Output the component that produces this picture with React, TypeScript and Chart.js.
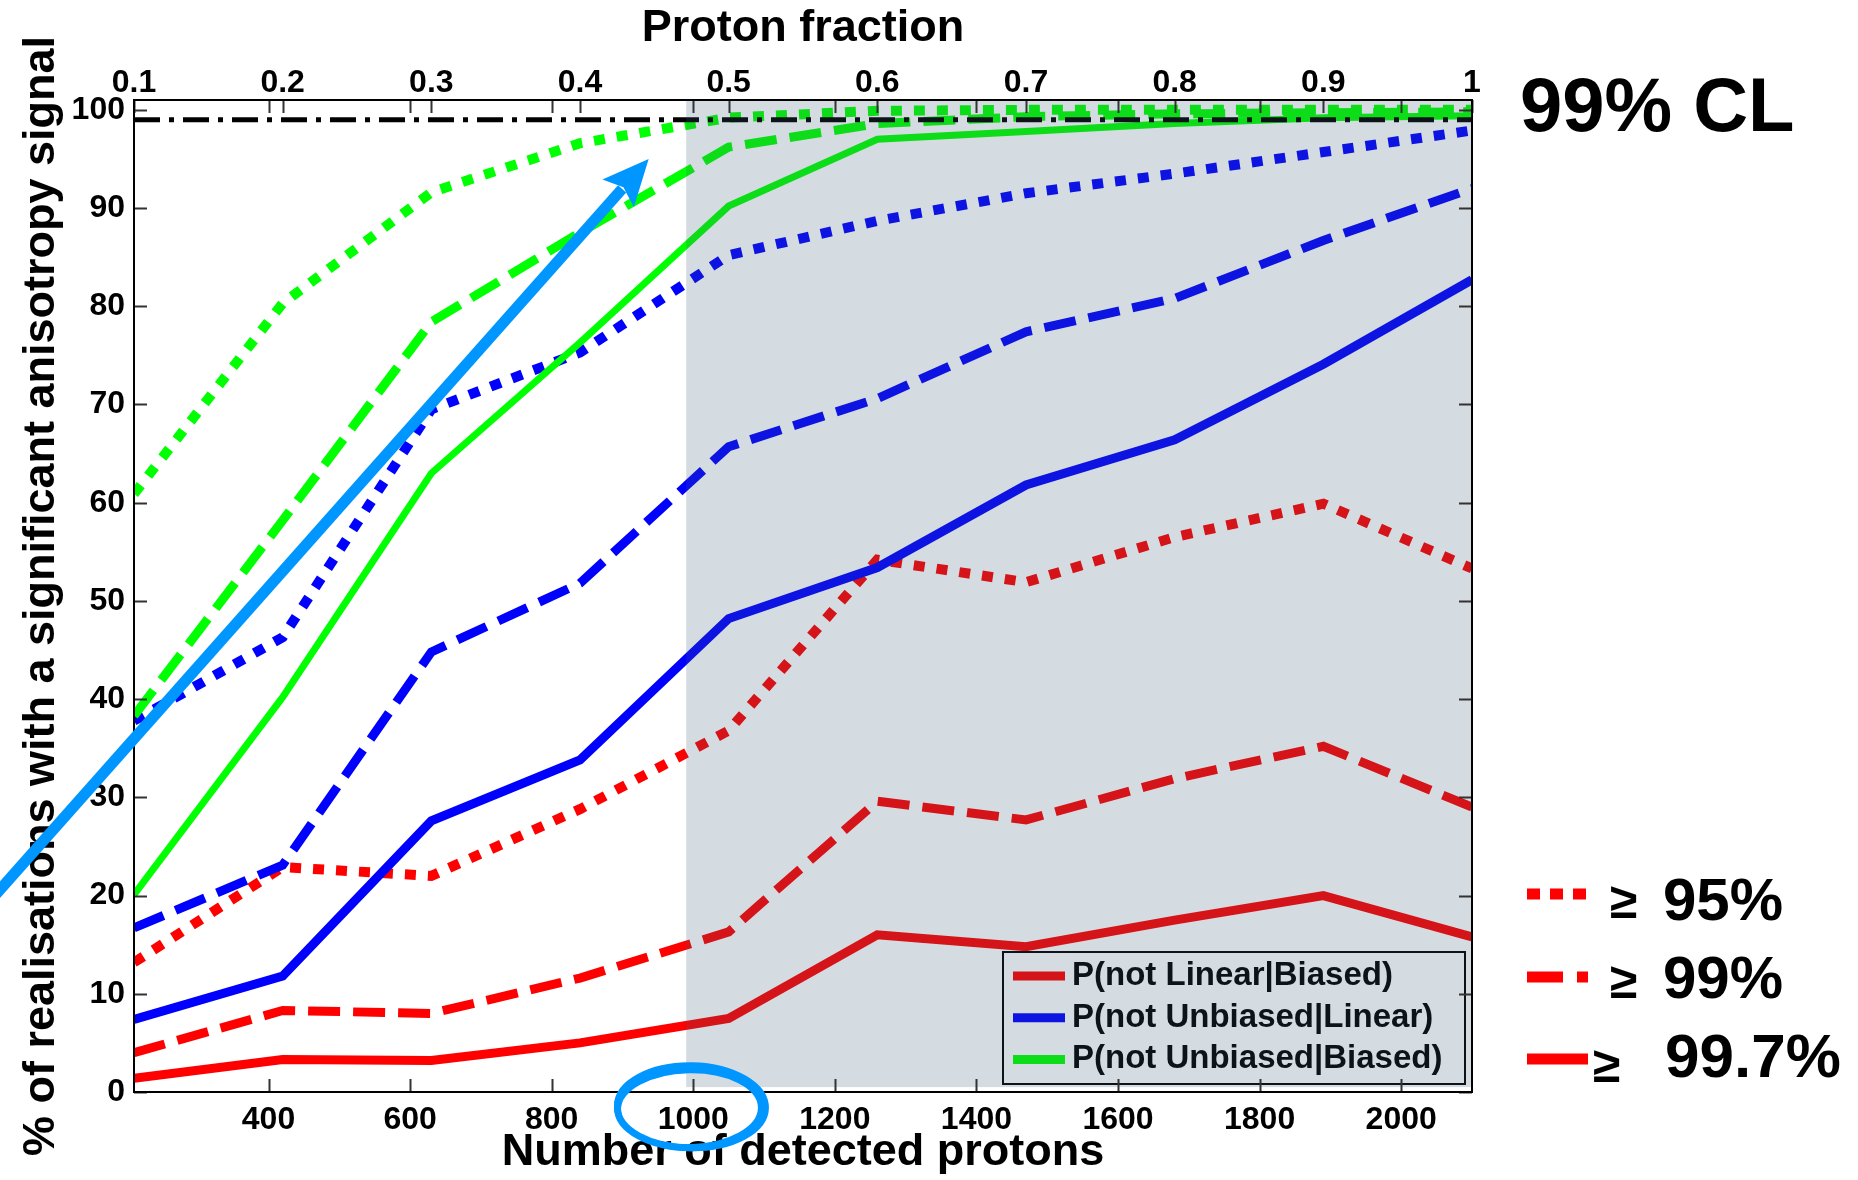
import React, { useEffect, useRef } from "react";
import { Chart, registerables } from "chart.js";

Chart.register(...registerables);

// Number of detected protons (bottom axis); proton fraction = N / 2100 (top axis)
const PROTONS = [210, 420, 630, 840, 1050, 1260, 1470, 1680, 1890, 2100];
const PROTON_TICKS = [400, 600, 800, 1000, 1200, 1400, 1600, 1800, 2000];
const FRACTION_TICKS = [0.1, 0.2, 0.3, 0.4, 0.5, 0.6, 0.7, 0.8, 0.9, 1];
const PERCENT_TICKS = [0, 10, 20, 30, 40, 50, 60, 70, 80, 90, 100];

// % of realisations with a significant anisotropy signal
// P(not Linear|Biased)
const LIN_BIASED_997 = [1.4, 3.3, 3.2, 5.0, 7.5, 16.0, 14.8, 17.5, 20.0, 15.8];
const LIN_BIASED_99 = [4.0, 8.3, 8.0, 11.6, 16.3, 29.6, 27.7, 31.9, 35.2, 29.0];
const LIN_BIASED_95 = [13.2, 22.9, 22.0, 28.8, 36.8, 54.2, 51.9, 56.5, 59.9, 53.3];
// P(not Unbiased|Linear)
const UNB_LINEAR_997 = [7.4, 11.8, 27.6, 33.8, 48.2, 53.4, 61.8, 66.4, 74.1, 82.7];
const UNB_LINEAR_99 = [16.7, 23.1, 44.8, 51.8, 65.7, 70.6, 77.4, 80.8, 86.7, 92.0];
const UNB_LINEAR_95 = [37.8, 46.3, 69.5, 75.3, 85.2, 88.7, 91.5, 93.5, 95.7, 97.9];
// P(not Unbiased|Biased)
const UNB_BIASED_997 = [20.1, 40.2, 63.0, 76.3, 90.2, 97.0, 97.8, 98.6, 99.2, 99.4];
const UNB_BIASED_99 = [38.3, 58.2, 78.4, 87.5, 96.2, 98.6, 99.3, 99.6, 99.7, 99.8];
const UNB_BIASED_95 = [60.9, 80.3, 91.6, 96.6, 99.2, 99.9, 100, 100, 100, 100];

const CL_LEVEL = 99;
const LEGEND_LABELS = [
  "P(not Linear|Biased)",
  "P(not Unbiased|Linear)",
  "P(not Unbiased|Biased)",
];
const CL_LABELS = ["95%", "99%", "99.7%"];

// shaded proton range and annotation anchors, in data units
const SHADE_X = [990, 2100];
const SHADE_Y = [0.5, 101];
const ARROW_FROM = [-20, 17.3];
const ARROW_TO = [937, 95.0];
const RING_CENTER = [996, -1.6];

const FONT = '"Liberation Sans", Arial, Helvetica, sans-serif';
const RED = "#ff0000";
const BLUE = "#0000ff";
const GREEN = "#00ff00";
const MARK_BLUE = "rgb(0,150,255)";
const DOTTED = [11, 12];
const DASHED = [32, 13];
const DASH_DOT = [26, 9, 5, 9];

const pts = (vals: number[]) => PROTONS.map((n, i) => ({ x: n, y: vals[i] }));

function line(label: string, vals: number[], color: string, dash: number[], width: number, legend = false) {
  return {
    label,
    data: pts(vals),
    borderColor: color,
    backgroundColor: color,
    borderWidth: width,
    borderDash: dash,
    pointRadius: 0,
    fill: false,
    tension: 0,
    borderJoinStyle: "miter" as const,
    borderCapStyle: "butt" as const,
    showInLegend: legend,
  };
}

const decorations = {
  id: "decorations",
  afterDatasetsDraw(chart: any) {
    const { ctx, chartArea: a, scales } = chart;
    const xs = scales.x;
    const ys = scales.y;
    const xt = scales.xTop;
    ctx.save();

    // legend box (sits inside the shaded range)
    const lx0 = a.right - 469;
    const ly0 = a.bottom - 140;
    const lw = 462;
    const lh = 132;
    ctx.fillStyle = "#ffffff";
    ctx.fillRect(lx0, ly0, lw, lh);
    ctx.strokeStyle = "#000";
    ctx.lineWidth = 2;
    ctx.strokeRect(lx0, ly0, lw, lh);
    const legendSets = chart.data.datasets.filter((d: any) => d.showInLegend);
    legendSets.forEach((d: any, i: number) => {
      const cy = ly0 + 24 + i * 41.7;
      ctx.strokeStyle = d.borderColor;
      ctx.lineWidth = 9;
      ctx.setLineDash([]);
      ctx.beginPath();
      ctx.moveTo(lx0 + 10, cy);
      ctx.lineTo(lx0 + 62, cy);
      ctx.stroke();
      ctx.fillStyle = "#000";
      ctx.font = `bold 33px ${FONT}`;
      ctx.textBaseline = "middle";
      ctx.textAlign = "left";
      ctx.fillText(d.label, lx0 + 69, cy);
    });

    // translucent shading laid over the curves
    const sx0 = xs.getPixelForValue(SHADE_X[0]);
    const sx1 = xs.getPixelForValue(SHADE_X[1]);
    const sy0 = ys.getPixelForValue(SHADE_Y[1]);
    const sy1 = ys.getPixelForValue(SHADE_Y[0]);
    ctx.fillStyle = "rgba(60,92,116,0.216)";
    ctx.fillRect(sx0, Math.max(sy0, a.top), sx1 - sx0, sy1 - Math.max(sy0, a.top));

    // inward tick marks on all four sides
    const tl = 13;
    ctx.strokeStyle = "#333";
    ctx.lineWidth = 2;
    ctx.beginPath();
    PROTON_TICKS.forEach((v) => {
      const px = Math.round(xs.getPixelForValue(v)) + 0.5;
      ctx.moveTo(px, a.bottom);
      ctx.lineTo(px, a.bottom - tl);
      ctx.moveTo(px, a.top);
      ctx.lineTo(px, a.top + tl);
    });
    FRACTION_TICKS.forEach((v) => {
      const px = Math.round(xt.getPixelForValue(v)) + 0.5;
      ctx.moveTo(px, a.top);
      ctx.lineTo(px, a.top + tl);
    });
    PERCENT_TICKS.forEach((v) => {
      const py = Math.round(ys.getPixelForValue(v)) + 0.5;
      ctx.moveTo(a.left, py);
      ctx.lineTo(a.left + tl, py);
      ctx.moveTo(a.right, py);
      ctx.lineTo(a.right - tl, py);
    });
    ctx.stroke();

    // axes box
    ctx.strokeStyle = "#000";
    ctx.lineWidth = 2;
    ctx.strokeRect(a.left, a.top, a.right - a.left, a.bottom - a.top);

    // arrow
    const p0x = xs.getPixelForValue(ARROW_FROM[0]);
    const p0y = ys.getPixelForValue(ARROW_FROM[1]);
    const p1x = xs.getPixelForValue(ARROW_TO[0]);
    const p1y = ys.getPixelForValue(ARROW_TO[1]);
    const ang = Math.atan2(p1y - p0y, p1x - p0x);
    const cs = Math.cos(ang);
    const sn = Math.sin(ang);
    const headLen = 46;
    const headHalf = 21;
    const bx = p1x - headLen * cs;
    const by = p1y - headLen * sn;
    ctx.strokeStyle = MARK_BLUE;
    ctx.fillStyle = MARK_BLUE;
    ctx.lineWidth = 11;
    ctx.lineCap = "butt";
    ctx.beginPath();
    ctx.moveTo(p0x, p0y);
    ctx.lineTo(bx + 6 * cs, by + 6 * sn);
    ctx.stroke();
    ctx.beginPath();
    ctx.moveTo(p1x, p1y);
    ctx.lineTo(bx - headHalf * sn, by + headHalf * cs);
    ctx.lineTo(bx + 8 * cs, by + 8 * sn);
    ctx.lineTo(bx + headHalf * sn, by - headHalf * cs);
    ctx.closePath();
    ctx.fill();

    // hand-drawn ring around 1000
    const rcx = xs.getPixelForValue(RING_CENTER[0]);
    const rcy = ys.getPixelForValue(RING_CENTER[1]);
    ctx.strokeStyle = MARK_BLUE;
    ctx.lineWidth = 7;
    ctx.beginPath();
    ctx.ellipse(rcx, rcy, 73, 40, 0, 0, Math.PI * 2);
    ctx.stroke();
    ctx.lineWidth = 3;
    ctx.beginPath();
    ctx.ellipse(rcx + 1, rcy - 1, 76, 43, 0.02, 0, Math.PI * 2);
    ctx.stroke();
    ctx.beginPath();
    ctx.ellipse(rcx - 1, rcy + 1, 70, 37, -0.02, 0, Math.PI * 2);
    ctx.stroke();

    // confidence-level key on the right
    ctx.fillStyle = "#000";
    ctx.textAlign = "left";
    ctx.textBaseline = "alphabetic";
    ctx.font = `bold 76px ${FONT}`;
    ctx.fillText(`${CL_LEVEL}% CL`, a.right + 48, a.top + 31);

    const kx = a.right + 55;
    const rows = [a.bottom - 198, a.bottom - 115, a.bottom - 33];
    ctx.strokeStyle = RED;
    ctx.lineWidth = 11;
    ctx.lineCap = "butt";
    const keyDash = [[13, 10], [36, 14], []];
    rows.forEach((ry, i) => {
      ctx.setLineDash(keyDash[i]);
      ctx.beginPath();
      ctx.moveTo(kx, ry);
      ctx.lineTo(kx + 61, ry);
      ctx.stroke();
    });
    ctx.setLineDash([]);
    ctx.fillStyle = "#000";
    ctx.font = `bold 50px ${FONT}`;
    ctx.fillText("\u2265", kx + 83, rows[0] + 24);
    ctx.fillText("\u2265", kx + 83, rows[1] + 21);
    ctx.fillText("\u2265", kx + 66, rows[2] + 23);
    ctx.font = `bold 60px ${FONT}`;
    ctx.fillText(CL_LABELS[0], kx + 136, rows[0] + 26);
    ctx.fillText(CL_LABELS[1], kx + 136, rows[1] + 21);
    ctx.font = `bold 62px ${FONT}`;
    ctx.fillText(CL_LABELS[2], kx + 138, rows[2] + 18);

    ctx.restore();
  },
};

export default function App() {
  const canvasRef = useRef<HTMLCanvasElement | null>(null);

  useEffect(() => {
    const canvas = canvasRef.current;
    if (!canvas) return;

    const tickFont = { family: FONT, size: 32, weight: "bold" as const, lineHeight: 1 };
    const titleFont = { family: FONT, size: 45, weight: "bold" as const, lineHeight: 1 };

    const chart = new Chart(canvas, {
      type: "line",
      data: {
        datasets: [
          {
            label: `${CL_LEVEL}% CL`,
            data: [
              { x: PROTONS[0], y: CL_LEVEL },
              { x: PROTONS[PROTONS.length - 1], y: CL_LEVEL },
            ],
            borderColor: "#000",
            borderWidth: 5,
            borderDash: DASH_DOT,
            pointRadius: 0,
            fill: false,
          } as any,
          line(LEGEND_LABELS[0], LIN_BIASED_997, RED, [], 9, true),
          line(LEGEND_LABELS[1], UNB_LINEAR_997, BLUE, [], 9, true),
          line(LEGEND_LABELS[2], UNB_BIASED_997, GREEN, [], 7, true),
          line("P(not Linear|Biased) 99%", LIN_BIASED_99, RED, DASHED, 9),
          line("P(not Unbiased|Linear) 99%", UNB_LINEAR_99, BLUE, DASHED, 9),
          line("P(not Unbiased|Biased) 99%", UNB_BIASED_99, GREEN, DASHED, 9),
          line("P(not Linear|Biased) 95%", LIN_BIASED_95, RED, DOTTED, 10),
          line("P(not Unbiased|Linear) 95%", UNB_LINEAR_95, BLUE, DOTTED, 10),
          line("P(not Unbiased|Biased) 95%", UNB_BIASED_95, GREEN, DOTTED, 10),
        ],
      },
      options: {
        responsive: false,
        animation: false,
        devicePixelRatio: 1,
        layout: { padding: { left: 0, top: 0, right: 386, bottom: 0 } },
        plugins: {
          legend: { display: false },
          tooltip: { enabled: false },
        },
        scales: {
          x: {
            type: "linear",
            position: "bottom",
            min: PROTONS[0],
            max: PROTONS[PROTONS.length - 1],
            grid: { display: false, drawTicks: false },
            border: { display: false },
            afterBuildTicks: (s: any) => {
              s.ticks = PROTON_TICKS.map((v) => ({ value: v }));
            },
            afterFit: (s: any) => {
              s.height = 88;
            },
            ticks: {
              autoSkip: false,
              maxRotation: 0,
              padding: 12,
              color: "#000",
              font: tickFont,
              callback: (v: any) => String(v),
            },
            title: {
              display: true,
              text: "Number of detected protons",
              color: "#000",
              font: titleFont,
              padding: { top: 0, bottom: 5 },
            },
          },
          xTop: {
            type: "linear",
            position: "top",
            min: FRACTION_TICKS[0],
            max: FRACTION_TICKS[FRACTION_TICKS.length - 1],
            grid: { display: false, drawTicks: false },
            border: { display: false },
            afterBuildTicks: (s: any) => {
              s.ticks = FRACTION_TICKS.map((v) => ({ value: v }));
            },
            afterFit: (s: any) => {
              s.height = 100;
            },
            ticks: {
              autoSkip: false,
              maxRotation: 0,
              padding: 1,
              color: "#000",
              font: tickFont,
              callback: (v: any) => String(v),
            },
            title: {
              display: true,
              text: "Proton fraction",
              color: "#000",
              font: titleFont,
              padding: { top: 6, bottom: 0 },
            },
          },
          y: {
            type: "linear",
            position: "left",
            min: 0,
            max: 101,
            grid: { display: false, drawTicks: false },
            border: { display: false },
            afterBuildTicks: (s: any) => {
              s.ticks = PERCENT_TICKS.map((v) => ({ value: v }));
            },
            afterFit: (s: any) => {
              s.width = 134;
            },
            ticks: {
              autoSkip: false,
              padding: 9,
              color: "#000",
              font: tickFont,
              callback: (v: any) => String(v),
            },
            title: {
              display: true,
              text: "% of realisations with a significant anisotropy signal",
              color: "#000",
              font: titleFont,
              padding: { top: 19, bottom: 0 },
            },
          },
        },
      } as any,
      plugins: [decorations],
    });

    return () => chart.destroy();
  }, []);

  return (
    <div
      style={{
        position: "fixed",
        left: 0,
        top: 0,
        width: 1858,
        height: 1180,
        background: "#ffffff",
      }}
    >
      <canvas ref={canvasRef} width={1858} height={1180} style={{ display: "block" }} />
    </div>
  );
}
